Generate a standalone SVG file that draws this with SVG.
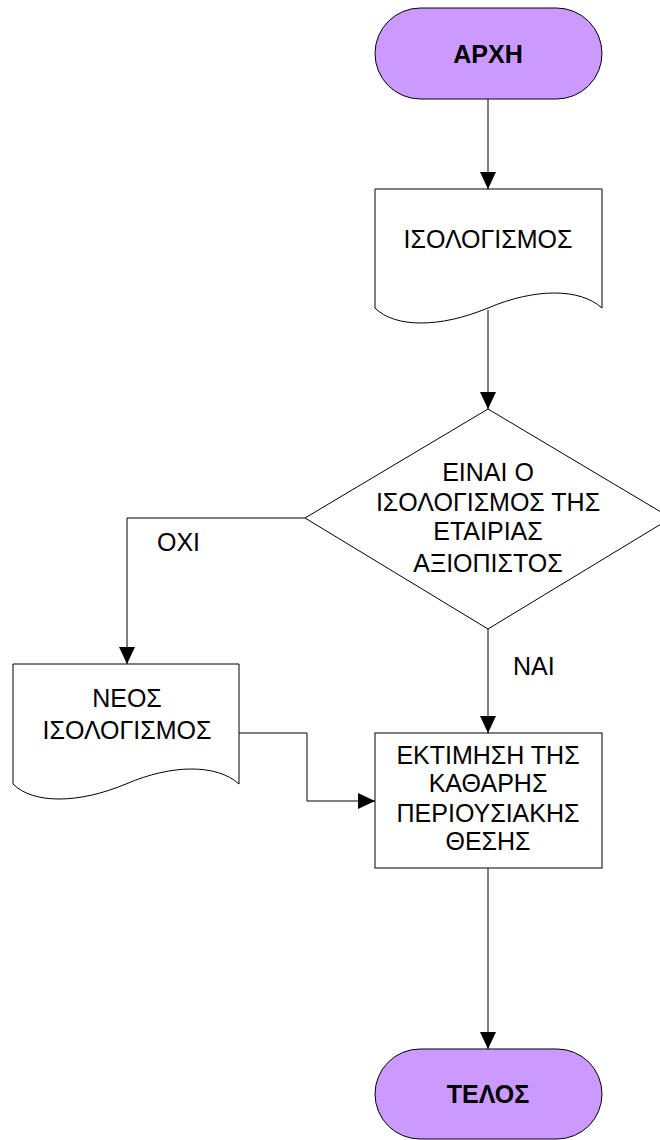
<svg xmlns="http://www.w3.org/2000/svg" width="660" height="1140" viewBox="0 0 660 1140">
  <style>
    .shape { fill: #FFFFFF; stroke: #000000; stroke-width: 1; }
    .term { fill: #CC99FF; stroke: #000000; stroke-width: 1; }
    .conn { fill: none; stroke: #000000; stroke-width: 1; marker-end: url(#arrow); }
    text { font-family: "Liberation Sans", Arial, sans-serif; font-size: 25px; fill: #000000; text-anchor: middle; }
    .bold { font-weight: bold; }
    .lbl { text-anchor: start; }
  </style>
  <defs>
    <marker id="arrow" markerUnits="userSpaceOnUse" markerWidth="17" markerHeight="16" refX="17" refY="8" orient="auto">
      <path d="M0,0 L17,8 L0,16 Z" fill="#000000"/>
    </marker>
  </defs>
  <rect width="660" height="1140" fill="#FFFFFF"/>

  <g id="connectors">
    <path class="conn" d="M488,99 V189"/>
    <path class="conn" d="M488,310 V409"/>
    <path class="conn" d="M305,518 H127 V664"/>
    <path class="conn" d="M488,629 V733"/>
    <path class="conn" d="M239,733 H307 V801 H375"/>
    <path class="conn" d="M488,868 V1049"/>
    <text class="lbl" x="157" y="551">ΟΧΙ</text>
    <text class="lbl" x="513" y="675">ΝΑΙ</text>
  </g>

  <g id="start">
    <rect class="term" x="375" y="8" width="227" height="91" rx="45.5" ry="45.5"/>
    <text class="bold" x="488" y="63">ΑΡΧΗ</text>
  </g>

  <g id="doc-isologismos">
    <path class="shape" d="M375,189 H602 V308 C580,288 535,288 488,308 C440,328 395,328 375,308 Z"/>
    <text x="488" y="248">ΙΣΟΛΟΓΙΣΜΟΣ</text>
  </g>

  <g id="decision">
    <polygon class="shape" points="488,409 671,518 488,629 305,518"/>
    <text x="488" y="481">ΕΙΝΑΙ Ο</text>
    <text x="488" y="511">ΙΣΟΛΟΓΙΣΜΟΣ ΤΗΣ</text>
    <text x="488" y="540">ΕΤΑΙΡΙΑΣ</text>
    <text x="488" y="572">ΑΞΙΟΠΙΣΤΟΣ</text>
  </g>

  <g id="doc-neos">
    <path class="shape" d="M13,664 H239 V784 C217,764 172,764 126,784 C78,804 33,804 13,784 Z"/>
    <text x="127" y="707">ΝΕΟΣ</text>
    <text x="127" y="739">ΙΣΟΛΟΓΙΣΜΟΣ</text>
  </g>

  <g id="process">
    <rect class="shape" x="375" y="733" width="227" height="135"/>
    <text x="488" y="764">ΕΚΤΙΜΗΣΗ ΤΗΣ</text>
    <text x="488" y="792">ΚΑΘΑΡΗΣ</text>
    <text x="488" y="822">ΠΕΡΙΟΥΣΙΑΚΗΣ</text>
    <text x="488" y="850">ΘΕΣΗΣ</text>
  </g>

  <g id="end">
    <rect class="term" x="375" y="1049" width="227" height="90" rx="45" ry="45"/>
    <text class="bold" x="488" y="1103">ΤΕΛΟΣ</text>
  </g>
</svg>
